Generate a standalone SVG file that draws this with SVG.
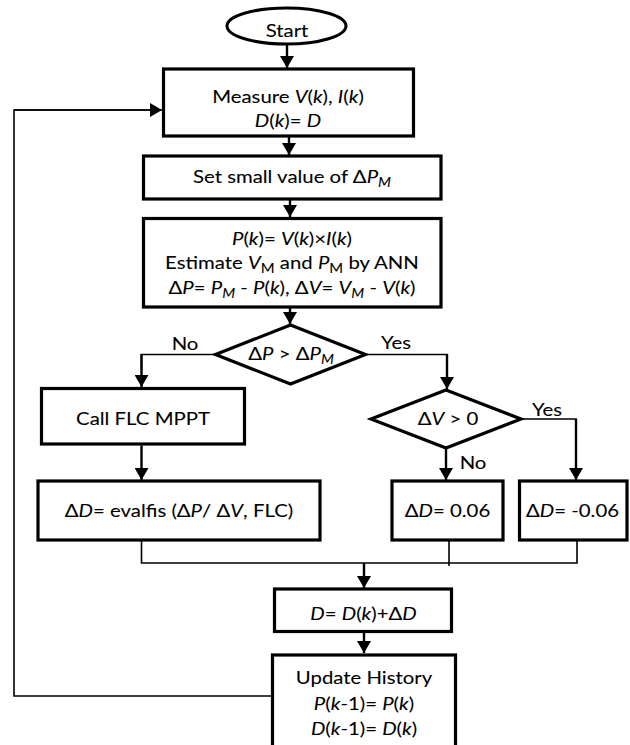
<svg xmlns="http://www.w3.org/2000/svg" width="630" height="745" viewBox="0 0 630 745">
<style>
.box{fill:#fff;stroke:#000;stroke-width:3.2}
.t{font-family:Lato,"Open Sans",sans-serif;font-size:17.7px;text-anchor:middle;fill:#000;stroke:#000;stroke-width:0.08}
.i{font-style:italic}
.s{font-size:13px}
.ar{fill:none;stroke:#000;stroke-width:2.4}
.ln{fill:none;stroke:#000;stroke-width:1.6}
</style>
<defs>
<marker id="ah" markerUnits="userSpaceOnUse" markerWidth="12" markerHeight="14" refX="12" refY="7" orient="auto">
<path d="M0,0 L12,7 L0,14 z" fill="#000"/>
</marker>
</defs>
<g id="connectors">
<line class="ar" x1="287" y1="44.5" x2="287" y2="68" marker-end="url(#ah)"/>
<line class="ar" x1="289" y1="137" x2="289" y2="155" marker-end="url(#ah)"/>
<line class="ar" x1="290" y1="200" x2="290" y2="217" marker-end="url(#ah)"/>
<line class="ar" x1="290" y1="308" x2="290" y2="324" marker-end="url(#ah)"/>
<polyline class="ln" points="215.5,354.5 141.5,354.5 141.5,370"/>
<line class="ar" x1="141.5" y1="354" x2="141.5" y2="387" marker-end="url(#ah)"/>
<polyline class="ln" points="365.5,354.5 447,354.5 447,370"/>
<line class="ar" x1="447" y1="354" x2="447" y2="389" marker-end="url(#ah)"/>
<line class="ar" x1="141.5" y1="445.5" x2="141.5" y2="480" marker-end="url(#ah)"/>
<line class="ar" x1="446" y1="449" x2="446" y2="480" marker-end="url(#ah)"/>
<polyline class="ln" points="521,419 576,419 576,440"/>
<line class="ar" x1="576" y1="419" x2="576" y2="480" marker-end="url(#ah)"/>
<polyline class="ln" points="141.5,541 141.5,563 577,563 577,541"/>
<line class="ln" x1="449" y1="541" x2="449" y2="566"/>
<line class="ar" x1="364" y1="563" x2="364" y2="588" marker-end="url(#ah)"/>
<line class="ar" x1="364" y1="633" x2="364" y2="653" marker-end="url(#ah)"/>
<polyline class="ln" points="272.5,696 14,696 14,110 150,110"/>
<line class="ln" x1="14" y1="110" x2="162" y2="110" marker-end="url(#ah)"/>
</g>
<g id="start">
<ellipse cx="286.5" cy="26" rx="59.5" ry="18" fill="#fff" stroke="#000" stroke-width="3"/>
<text class="t" transform="translate(287 37.3) scale(1.15 1)">Start</text>
</g>
<g id="measure">
<rect class="box" x="163.5" y="69" width="250" height="67"/>
<text class="t" transform="translate(288 102.7) scale(1.15 1)">Measure <tspan class="i">V</tspan>(<tspan class="i">k</tspan>), <tspan class="i">I</tspan>(<tspan class="i">k</tspan>)</text>
<text class="t" transform="translate(288 126.7) scale(1.15 1)"><tspan class="i">D</tspan>(<tspan class="i">k</tspan>)= <tspan class="i">D</tspan></text>
</g>
<g id="setsmall">
<rect class="box" x="143.5" y="156" width="297.5" height="43"/>
<text class="t" transform="translate(292 182.8) scale(1.15 1)">Set small value of Δ<tspan class="i">P</tspan><tspan class="i s" dy="4">M</tspan></text>
</g>
<g id="compute">
<rect class="box" x="143.5" y="218.5" width="297.5" height="88.5"/>
<text class="t" transform="translate(292 244.5) scale(1.15 1)"><tspan class="i">P</tspan>(<tspan class="i">k</tspan>)= <tspan class="i">V</tspan>(<tspan class="i">k</tspan>)×<tspan class="i">I</tspan>(<tspan class="i">k</tspan>)</text>
<text class="t" transform="translate(292 269.3) scale(1.15 1)">Estimate <tspan class="i">V</tspan><tspan class="s" dy="4">M</tspan><tspan dy="-4"> and </tspan><tspan class="i">P</tspan><tspan class="s" dy="4">M</tspan><tspan dy="-4"> by ANN</tspan></text>
<text class="t" transform="translate(292 293.5) scale(1.15 1)">Δ<tspan class="i">P</tspan>= <tspan class="i">P</tspan><tspan class="i s" dy="4">M</tspan><tspan dy="-4"> - </tspan><tspan class="i">P</tspan>(<tspan class="i">k</tspan>), Δ<tspan class="i">V</tspan>= <tspan class="i">V</tspan><tspan class="i s" dy="4">M</tspan><tspan dy="-4"> - </tspan><tspan class="i">V</tspan>(<tspan class="i">k</tspan>)</text>
</g>
<g id="decision1">
<polygon points="290.5,325 365.5,354.5 290.5,384 215.5,354.5" fill="#fff" stroke="#000" stroke-width="3.2"/>
<text class="t" transform="translate(291 360) scale(1.15 1)">Δ<tspan class="i">P</tspan>  &gt; Δ<tspan class="i">P</tspan><tspan class="i s" dy="4">M</tspan></text>
<text class="t" transform="translate(185 349.5) scale(1.15 1)">No</text>
<text class="t" transform="translate(396 348.5) scale(1.15 1)">Yes</text>
</g>
<g id="callflc">
<rect class="box" x="41.5" y="388.5" width="203" height="55.5"/>
<text class="t" transform="translate(143 425) scale(1.15 1)">Call FLC MPPT</text>
</g>
<g id="decision2">
<polygon points="446,390 521,419 446,448 371,419" fill="#fff" stroke="#000" stroke-width="3.2"/>
<text class="t" transform="translate(448 425) scale(1.15 1)">Δ<tspan class="i">V</tspan>  &gt; 0</text>
<text class="t" transform="translate(547 416) scale(1.15 1)">Yes</text>
<text class="t" transform="translate(473 469) scale(1.15 1)">No</text>
</g>
<g id="evalfis">
<rect class="box" x="38" y="481" width="282" height="59"/>
<text class="t" transform="translate(179 516.5) scale(1.15 1)">Δ<tspan class="i">D</tspan>= evalfis (Δ<tspan class="i">P</tspan>/ Δ<tspan class="i">V</tspan>, FLC)</text>
</g>
<g id="dpos">
<rect class="box" x="392" y="481" width="111" height="59"/>
<text class="t" transform="translate(447.5 516.5) scale(1.15 1)">Δ<tspan class="i">D</tspan>= 0.06</text>
</g>
<g id="dneg">
<rect class="box" x="519.5" y="481" width="107.5" height="59"/>
<text class="t" transform="translate(572.5 516.5) scale(1.15 1)">Δ<tspan class="i">D</tspan>= -0.06</text>
</g>
<g id="update-d">
<rect class="box" x="274.5" y="589" width="177" height="42.5"/>
<text class="t" transform="translate(363.5 620) scale(1.15 1)"><tspan class="i">D</tspan>= <tspan class="i">D</tspan>(<tspan class="i">k</tspan>)+Δ<tspan class="i">D</tspan></text>
</g>
<g id="history">
<rect class="box" x="272.5" y="655" width="183" height="110"/>
<text class="t" transform="translate(364 684.3) scale(1.15 1)">Update History</text>
<text class="t" transform="translate(364 709.5) scale(1.15 1)"><tspan class="i">P</tspan>(<tspan class="i">k</tspan>-1)= <tspan class="i">P</tspan>(<tspan class="i">k</tspan>)</text>
<text class="t" transform="translate(364 734.5) scale(1.15 1)"><tspan class="i">D</tspan>(<tspan class="i">k</tspan>-1)= <tspan class="i">D</tspan>(<tspan class="i">k</tspan>)</text>
</g>
</svg>
